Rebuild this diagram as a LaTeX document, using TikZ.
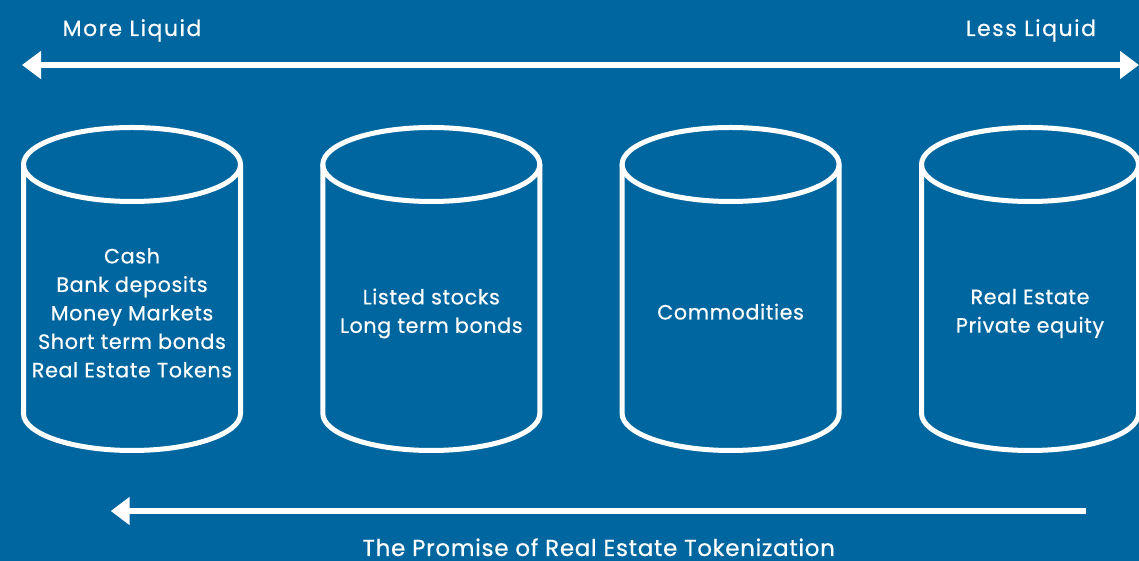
\documentclass[tikz,border=0pt]{standalone}
\usepackage{fontspec}
\setmainfont{Poppins}
\newfontfamily\poolfont[LetterSpace=3, FakeBold=0.5]{Poppins}
\newfontfamily\headfont[LetterSpace=7, FakeBold=0.5]{Poppins}
\usetikzlibrary{arrows.meta,positioning}
\definecolor{bg}{HTML}{00669F}

\begin{document}
\begin{tikzpicture}[x=1pt, y=1pt, text=white,
  pool/.style={draw=white, line width=5pt},
  label/.style={align=center, font=\poolfont\fontsize{20.7}{28.5}\selectfont,
    execute at begin node=\strut, execute at end node=\strut},
  head/.style={anchor=base, font=\headfont\fontsize{22}{24}\selectfont},
  flow/.style={white, line width=6pt}]
  \fill[bg] (0,0) rectangle (1139,561);
  \useasboundingbox (0,0) rectangle (1139,561);
  % the four pools
  \foreach \x in {132, 431.3, 730.6, 1030} {
    \draw[pool] (\x,396.5) ellipse [x radius=108.5, y radius=37];
    \draw[pool] (\x-108.5,396.5) -- (\x-108.5,147.5)
      arc [start angle=180, end angle=360, x radius=108.5, y radius=37] -- (\x+108.5,396.5);
  }
  \node[label] (cash) at (132,244) {Cash\\ Bank deposits\\ Money Markets\\ Short term bonds\\ Real Estate Tokens};
  \node[label] (stocks) at (431.3,246) {Listed stocks\\ Long term bonds};
  \node[label] (comm) at (730.6,247.2) {Commodities};
  \node[label] (estate) at (1030,246) {Real Estate\\ Private equity};
  % liquidity scale
  \node[head] (more) at (132,525) {More Liquid};
  \node[head] (less) at (1031,525) {Less Liquid};
  \coordinate (left) at (22,496);
  \coordinate (right) at (1139,496);
  \draw[flow, {Triangle[length=19pt,width=27pt]}-{Triangle[length=19pt,width=27pt]}] (left) -- (right);
  % tokenization
  \coordinate (from) at (1086,50);
  \coordinate (to) at (110.7,50);
  \draw[flow, -{Triangle[length=19pt,width=27pt]}] (from) -- (to);
  \node[head, text depth=0pt, font=\poolfont\fontsize{23}{24}\selectfont] (promise) at (598.7,5) {The Promise of Real Estate Tokenization};
\end{tikzpicture}
\end{document}
